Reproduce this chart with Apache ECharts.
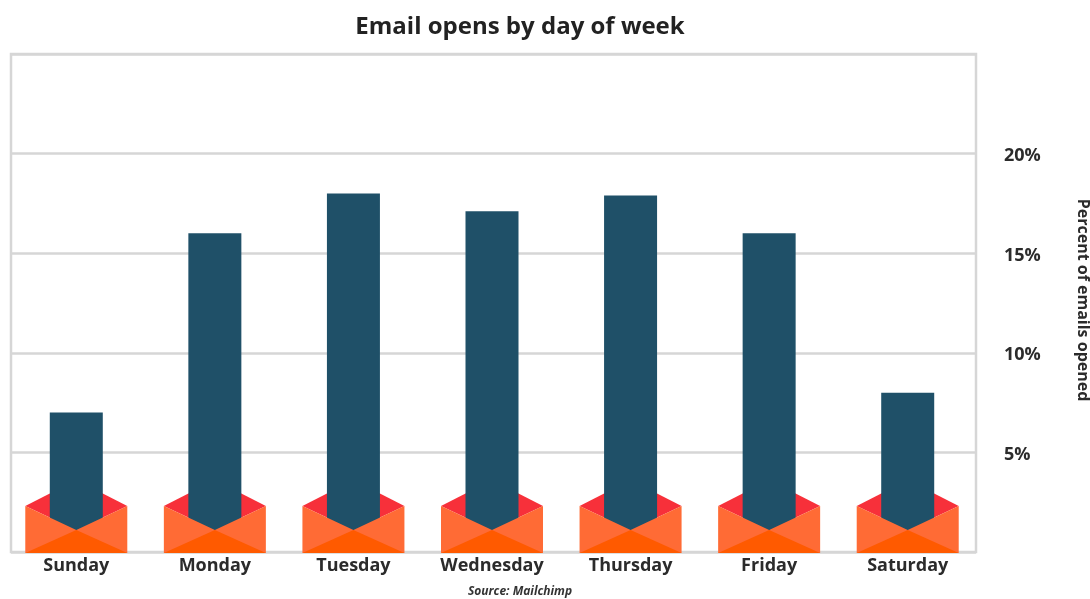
<!DOCTYPE html>
<html>
<head>
<meta charset="utf-8">
<title>Email opens by day of week</title>
<script src="https://cdn.jsdelivr.net/npm/echarts@6/dist/echarts.min.js"></script>
<style>
html, body { margin: 0; padding: 0; background: #fff; }
#chart { width: 1090px; height: 599px; }
</style>
</head>
<body>
<div id="chart"></div>
<script type="text/javascript">
var days = ['Sunday', 'Monday', 'Tuesday', 'Wednesday', 'Thursday', 'Friday', 'Saturday'];
var opens = [7, 16, 18, 17.1, 17.9, 16, 8];
var tickLabels = ['5%', '10%', '15%', '20%'];

var font = '"Open Sans", "Noto Sans", sans-serif';

// envelope drawn around the foot of each bar, half width 51px
function envelopeBack(params, api) {
  var p = api.coord([params.dataIndex, 0]);
  return {
    type: 'polygon',
    shape: { points: [[p[0] - 51, p[1] - 46], [p[0], p[1] - 72], [p[0] + 51, p[1] - 46], [p[0], p[1] - 22]] },
    style: { fill: '#f7303a' }
  };
}

function envelopeFront(params, api) {
  var p = api.coord([params.dataIndex, 0]);
  var x = p[0], y = p[1] + 1;
  return {
    type: 'group',
    children: [
      // one body shape so no seams show between the flaps
      { type: 'polygon', shape: { points: [[x - 51, y - 47], [x, y - 23], [x + 51, y - 47], [x + 51, y], [x - 51, y]] }, style: { fill: '#ff6b35' } },
      { type: 'polygon', shape: { points: [[x - 51, y], [x, y - 23], [x + 51, y]] }, style: { fill: '#ff5a00' } }
    ]
  };
}

var chart = echarts.init(document.getElementById('chart'));
chart.setOption({
  animation: false,
  backgroundColor: '#fff',
  title: [
    {
      text: 'Email opens by day of week',
      left: 515, top: 10, textAlign: 'center',
      textStyle: { fontFamily: font, fontSize: 24, fontWeight: 'bold', color: '#222' }
    },
    {
      text: 'Source: Mailchimp',
      left: 515, top: 581, textAlign: 'center',
      textStyle: { fontFamily: font, fontSize: 12, fontWeight: 'bold', fontStyle: 'italic', color: '#333' }
    }
  ],
  grid: [
    // frame and gridlines
    { left: 11, right: 114, top: 54, bottom: 47, show: true, borderColor: '#d6d6d6', borderWidth: 2.5, backgroundColor: 'transparent', outerBoundsMode: 'none' },
    // columns, slightly wider so the days land where they do in the picture
    { left: 7, right: 113, top: 54, bottom: 47, outerBoundsMode: 'none' }
  ],
  xAxis: [
    { gridIndex: 0, type: 'value', min: 0, max: 1, show: false },
    {
      gridIndex: 1, type: 'category', data: days,
      axisLine: { show: false }, axisTick: { show: false },
      axisLabel: { margin: 5, fontFamily: font, fontSize: 18, fontWeight: 'bold', color: '#2b2b2b' }
    }
  ],
  yAxis: [
    {
      gridIndex: 0, type: 'value', position: 'right', min: 0, max: 25, interval: 5,
      name: 'Percent of emails opened', nameLocation: 'middle', nameRotate: -90, nameGap: 99,
      nameTextStyle: { fontFamily: font, fontSize: 16, fontWeight: 'bold', color: '#2b2b2b', padding: [0, 6, 0, 0] },
      axisLine: { show: false }, axisTick: { show: false },
      splitLine: { show: true, lineStyle: { color: '#d6d6d6', width: 2.5 } },
      axisLabel: {
        margin: 28,
        formatter: function (v) { return tickLabels.indexOf(v + '%') >= 0 ? '{t|' + v + '%}' : ''; },
        rich: { t: { fontFamily: font, fontSize: 18, fontWeight: 'bold', color: '#2b2b2b', padding: [5, 0, 0, 0] } }
      }
    },
    { gridIndex: 1, type: 'value', min: 0, max: 25, interval: 5, show: false }
  ],
  series: [
    { type: 'custom', xAxisIndex: 1, yAxisIndex: 1, z: 2, data: opens, renderItem: envelopeBack, silent: true },
    { type: 'bar', xAxisIndex: 1, yAxisIndex: 1, z: 3, data: opens, barWidth: 53, itemStyle: { color: '#1f5068' }, silent: true },
    { type: 'custom', xAxisIndex: 1, yAxisIndex: 1, z: 4, data: opens, renderItem: envelopeFront, silent: true }
  ]
});
</script>
</body>
</html>
